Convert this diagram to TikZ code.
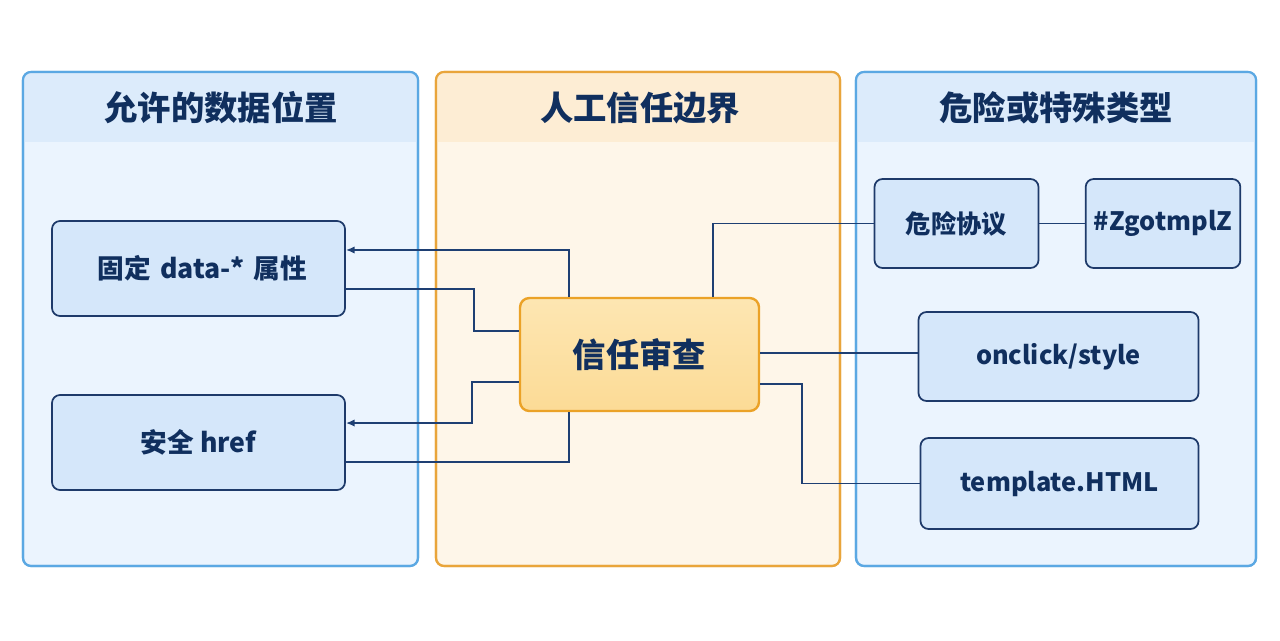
\documentclass[tikz,border=0pt]{standalone}
\usepackage{fontspec}
\setmainfont{Noto Sans CJK SC}
\usetikzlibrary{arrows.meta,calc}
\definecolor{txt}{HTML}{102F5E}
\definecolor{ln}{HTML}{1E3F73}
\definecolor{boxfill}{HTML}{D5E7FA}
\definecolor{boxline}{HTML}{1E3A6A}
\definecolor{pfill}{HTML}{EBF4FE}
\definecolor{pline}{HTML}{5BA8E3}
\definecolor{phead}{HTML}{DCEBFB}
\definecolor{mfill}{HTML}{FEF6E9}
\definecolor{mline}{HTML}{E9A53B}
\definecolor{mhead}{HTML}{FDEDD4}
\definecolor{cfilltop}{HTML}{FDE6B2}
\definecolor{cfillbot}{HTML}{FCDB96}
\definecolor{cline}{HTML}{EBA227}
\tikzset{
  panel/.style={draw=pline, line width=1.6pt, fill=pfill, rounded corners=6pt},
  mpanel/.style={draw=mline, line width=1.6pt, fill=mfill, rounded corners=6pt},
  ptitle/.style={text=txt, font=\bfseries\fontsize{25}{28}\selectfont},
  itembox/.style={draw=boxline, line width=1.3pt, fill=boxfill, rounded corners=6pt,
    text=txt, font=\bfseries\fontsize{19}{22}\selectfont},
  leftbox/.style={itembox, font=\bfseries\fontsize{20}{23}\selectfont},
  centerbox/.style={draw=cline, line width=1.8pt, top color=cfilltop, bottom color=cfillbot, rounded corners=7pt,
    text=txt, font=\bfseries\fontsize{25}{28}\selectfont},
  conn/.style={draw=ln, line width=1.35pt},
  arr/.style={conn, -{Latex[length=6.5pt,width=5.5pt]}}
}
\begin{document}
\begin{tikzpicture}[x=0.75pt,y=-0.75pt]
\useasboundingbox[fill=white] (0,0) rectangle (1280,640);
% panels
\foreach \xa/\xb/\st/\hc in {23/418/panel/phead,436/840/mpanel/mhead,856/1256/panel/phead}{
  \path[\st] (\xa,72) rectangle (\xb,566);
  \begin{scope}
    \clip[rounded corners=6pt] (\xa,72) rectangle (\xb,566);
    \fill[\hc] (\xa,72) rectangle (\xb,142);
  \end{scope}
  \path[\st, fill=none] (\xa,72) rectangle (\xb,566);
}
\node[ptitle] (t1) at (221,108) {允许的数据位置};
\node[ptitle] (t2) at (640,108) {人工信任边界};
\node[ptitle] (t3) at (1056,108) {危险或特殊类型};
% boxes
\node[leftbox, minimum width=219.75pt, minimum height=71.25pt] (data) at (198.5,268.5) {\hspace*{6pt}固定\hspace{2pt} data-*\hspace{2pt} 属性};
\node[leftbox, minimum width=219.75pt, minimum height=71.25pt] (href) at (198.5,442.5) {安全 href};
\node[centerbox, minimum width=179.25pt, minimum height=84.75pt] (ctr) at (639.5,354.5) {信任审查};
\node[itembox, minimum width=123pt, minimum height=66.75pt] (danger) at (956.5,223.5) {危险协议};
\node[itembox, minimum width=116pt, minimum height=66.75pt] (zgot) at (1163,223.5) {\#ZgotmplZ};
\node[itembox, minimum width=210pt, minimum height=66.75pt] (onclick) at (1058.5,356.5) {onclick/style};
\node[itembox, minimum width=208.5pt, minimum height=68.25pt] (tmpl) at (1059.5,483.5) {template.HTML};
% connectors
\draw[arr] ([xshift=-52.9pt]ctr.north) |- ([yshift=13.9pt]data.east);
\draw[conn] ([yshift=-15.4pt]data.east) -- ++(128,0) |- ([yshift=17.6pt]ctr.west);
\draw[arr] ([yshift=-20.6pt]ctr.west) -- ++(-47,0) |- ([yshift=14.6pt]href.east);
\draw[conn] ([yshift=-14.6pt]href.east) -| ([xshift=-52.9pt]ctr.south);
\draw[conn] ([xshift=55.1pt]ctr.north) |- (danger.west);
\draw[conn] (danger.east) -- (zgot.west);
\draw[conn] ([yshift=1pt]ctr.east) -- ([yshift=1pt]ctr.east -| onclick.west);
\draw[conn] ([yshift=-22.1pt]ctr.east) -- ++(42,0) |- (tmpl.west);
\end{tikzpicture}
\end{document}
